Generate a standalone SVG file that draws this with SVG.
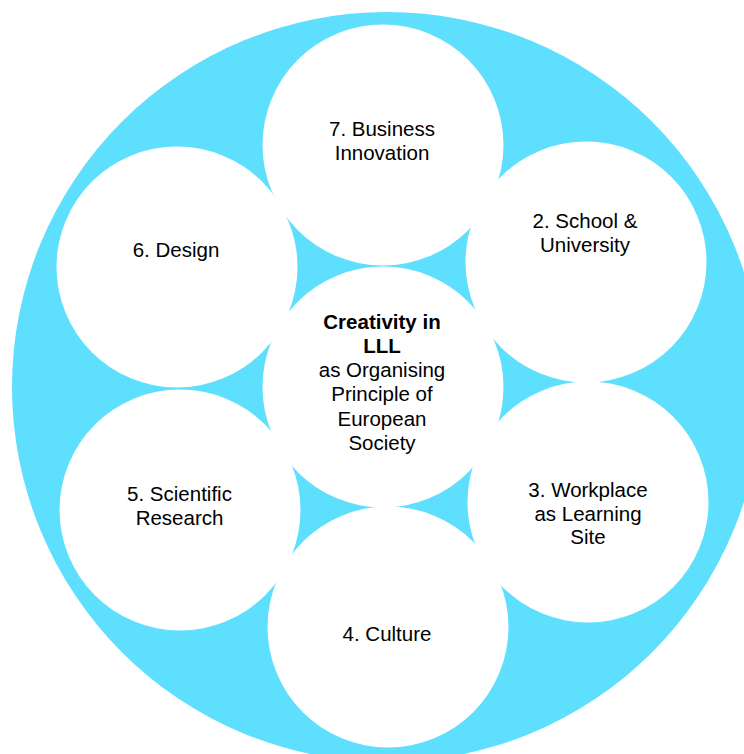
<svg xmlns="http://www.w3.org/2000/svg" width="744" height="754" viewBox="0 0 744 754">
  <style>
    .ring { fill: #5FDFFE; }
    .node circle { fill: #FFFFFF; }
    text { font-family: "Liberation Sans", Arial, Helvetica, sans-serif; font-size: 20.5px; fill: #000000; text-anchor: middle; }
    .b { font-weight: bold; }
  </style>
  <rect width="744" height="754" fill="#FFFFFF"/>
  <!-- outer disc -->
  <circle class="ring" cx="387" cy="387" r="375"/>

  <g id="connectors"></g>

  <g id="node-7" class="node">
    <circle cx="383" cy="145" r="120.5"/>
    <text x="382" y="136">7. Business</text>
    <text x="382" y="159.5">Innovation</text>
  </g>
  <g id="node-2" class="node">
    <circle cx="586" cy="262" r="120.5"/>
    <text x="585" y="228">2. School &amp;</text>
    <text x="585" y="251.5">University</text>
  </g>
  <g id="node-6" class="node">
    <circle cx="177" cy="267" r="120.5"/>
    <text x="176" y="257">6. Design</text>
  </g>
  <g id="node-5" class="node">
    <circle cx="180" cy="510" r="120.5"/>
    <text x="179.5" y="500.5">5. Scientific</text>
    <text x="179.5" y="524.5">Research</text>
  </g>
  <g id="node-3" class="node">
    <circle cx="588" cy="502" r="120.5"/>
    <text x="588" y="496.5">3. Workplace</text>
    <text x="588" y="520.5">as Learning</text>
    <text x="588" y="544">Site</text>
  </g>
  <g id="node-4" class="node">
    <circle cx="388" cy="627" r="120.5"/>
    <text x="387" y="641">4. Culture</text>
  </g>
  <g id="node-center" class="node">
    <circle cx="383" cy="387" r="120.5"/>
    <text class="b" x="382" y="328.5">Creativity in</text>
    <text class="b" x="382" y="352.5">LLL</text>
    <text x="382" y="376.5">as Organising</text>
    <text x="382" y="401">Principle of</text>
    <text x="382" y="425.5">European</text>
    <text x="382" y="449.5">Society</text>
  </g>
</svg>
